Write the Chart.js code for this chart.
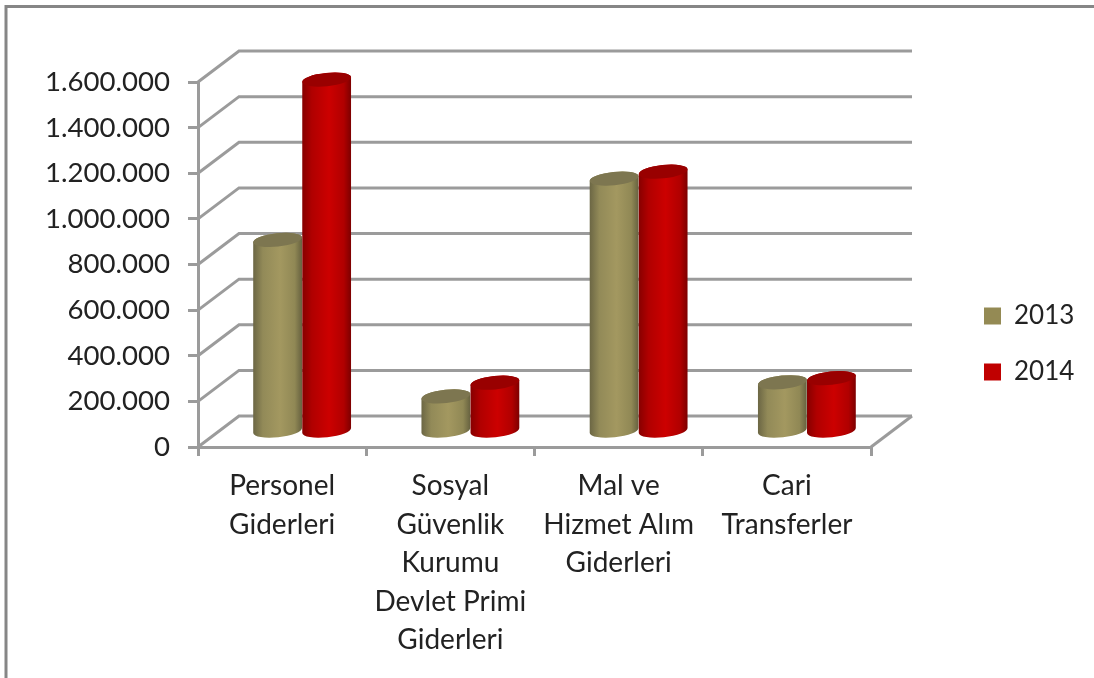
<!DOCTYPE html>
<html>
<head>
<meta charset="utf-8">
<style>
html, body { margin: 0; padding: 0; background: #fff; overflow: hidden; }
#wrap { width: 1094px; height: 678px; }
canvas { filter: blur(0.45px); }
</style>
<script src="https://cdn.jsdelivr.net/npm/chart.js@4/dist/chart.umd.min.js"></script>
</head>
<body>
<div id="wrap"><canvas id="chart"></canvas></div>
<script>
var categories = [
    ["Personel", "Giderleri"],
    ["Sosyal", "Güvenlik", "Kurumu", "Devlet Primi", "Giderleri"],
    ["Mal ve", "Hizmet Alım", "Giderleri"],
    ["Cari", "Transferler"]
];
var values2013 = [842000, 156000, 1111000, 218000];
var values2014 = [1545000, 216000, 1141000, 236000];
var yTickLabels = ["0", "200.000", "400.000", "600.000", "800.000", "1.000.000", "1.200.000", "1.400.000", "1.600.000"];

var FONT = "Lato, Carlito, sans-serif";
var LINE = "#9b9b9b";
var TEXT = "#222222";

// depth of the fake 3d box, and where the cylinders sit inside of it
var WALL_DX = 41, WALL_DY = -31;
var BAR_DX = 20, BAR_DY = -15;
var TILT = -6 * Math.PI / 180, RY = 6.7;

var shades = [
    { stops: ["#6b6644", "#928a58", "#a39860", "#908855", "#66613f"], top: "#7d7650" },
    { stops: ["#860000", "#b00000", "#cc0000", "#b00000", "#7c0000"], top: "#990000" }
];
var stopAt = [0, 0.2, 0.55, 0.85, 1];

function drawWall(chart) {
    var ctx = chart.ctx, area = chart.chartArea, y = chart.scales.y;
    ctx.save();
    ctx.strokeStyle = LINE;
    ctx.lineWidth = 3;
    y.ticks.forEach(function(t) {
        var py = y.getPixelForValue(t.value);
        ctx.beginPath();
        ctx.moveTo(area.left, py);
        ctx.lineTo(area.left + WALL_DX, py + WALL_DY);
        ctx.lineTo(area.right + WALL_DX, py + WALL_DY);
        ctx.stroke();
    });
    var py0 = y.getPixelForValue(0);
    ctx.beginPath();
    ctx.moveTo(area.right, py0);
    ctx.lineTo(area.right + WALL_DX, py0 + WALL_DY);
    ctx.stroke();
    ctx.restore();
}

function drawCylinder(ctx, el, c) {
    var cx = el.x + BAR_DX, rx = el.width / 2;
    var topY = el.y + BAR_DY, baseY = el.base + BAR_DY;
    var g = ctx.createLinearGradient(cx - rx, 0, cx + rx, 0);
    c.stops.forEach(function(col, i) {
        g.addColorStop(stopAt[i], col);
    });
    ctx.beginPath();
    ctx.ellipse(cx, baseY, rx, RY, TILT, 0, Math.PI);
    ctx.ellipse(cx, topY, rx, RY, TILT, Math.PI, Math.PI * 2);
    ctx.closePath();
    ctx.fillStyle = g;
    ctx.fill();
    ctx.beginPath();
    ctx.ellipse(cx, topY, rx, RY, TILT, 0, Math.PI * 2);
    ctx.fillStyle = c.top;
    ctx.fill();
}

var box3d = {
    id: "box3d",
    beforeLayout: function(chart) {
        // legend takes the whole strip right of the plot
        var lg = chart.legend;
        if (lg && !lg.fitWrapped) {
            var fit = lg.fit;
            lg.fit = function() { fit.call(this); this.width = 223; };
            lg.fitWrapped = true;
        }
    },
    afterLayout: function(chart) {
        var lg = chart.legend, pad = lg.options.labels.padding;
        lg.left = 984 - pad;
        lg.top = 303 - pad;
        lg.bottom = 678;
    },
    beforeDraw: function(chart) {
        var ctx = chart.ctx;
        ctx.save();
        ctx.fillStyle = "#fff";
        ctx.fillRect(0, 0, chart.width, chart.height);
        ctx.strokeStyle = "#868686";
        ctx.lineWidth = 3;
        ctx.beginPath();
        ctx.moveTo(6, chart.height);
        ctx.lineTo(6, 6.5);
        ctx.lineTo(chart.width, 6.5);
        ctx.stroke();
        ctx.restore();
    },
    beforeDatasetsDraw: function(chart) {
        drawWall(chart);
        var ctx = chart.ctx;
        ctx.save();
        chart.data.datasets.forEach(function(ds, i) {
            chart.getDatasetMeta(i).data.forEach(function(el) {
                drawCylinder(ctx, el, shades[i]);
            });
        });
        ctx.restore();
        return false;
    }
};

var chart = new Chart(document.getElementById("chart"), {
    type: "bar",
    data: {
        labels: categories,
        datasets: [
            { label: "2013", data: values2013, backgroundColor: "#948a54" },
            { label: "2014", data: values2014, backgroundColor: "#c00000" }
        ]
    },
    plugins: [box3d],
    options: {
        responsive: true,
        maintainAspectRatio: false,
        animation: false,
        layout: { padding: { top: 82, left: 0, right: 0, bottom: 0 } },
        datasets: { bar: { barPercentage: 1, categoryPercentage: 0.583 } },
        plugins: {
            tooltip: { enabled: false },
            legend: {
                position: "right",
                align: "start",
                labels: {
                    boxWidth: 17,
                    boxHeight: 17,
                    padding: 30,
                    color: TEXT,
                    font: { family: FONT, size: 26 }
                }
            }
        },
        scales: {
            x: {
                afterFit: function(s) { s.height = 231; },
                border: { color: LINE, width: 3 },
                grid: { color: LINE, lineWidth: 3, drawOnChartArea: false, tickLength: 9 },
                ticks: {
                    color: TEXT,
                    padding: 11,
                    maxRotation: 0,
                    autoSkip: false,
                    font: { family: FONT, size: 28, lineHeight: 1.375 }
                }
            },
            y: {
                min: 0,
                max: 1600000,
                afterFit: function(s) { s.width = 198; },
                border: { color: LINE, width: 3 },
                grid: { color: LINE, lineWidth: 3, drawOnChartArea: false, tickLength: 10 },
                ticks: {
                    stepSize: 200000,
                    color: TEXT,
                    padding: 18,
                    font: { family: FONT, size: 27.6 },
                    callback: function(v, i) { return yTickLabels[i]; }
                }
            }
        }
    }
});
</script>
</body>
</html>
